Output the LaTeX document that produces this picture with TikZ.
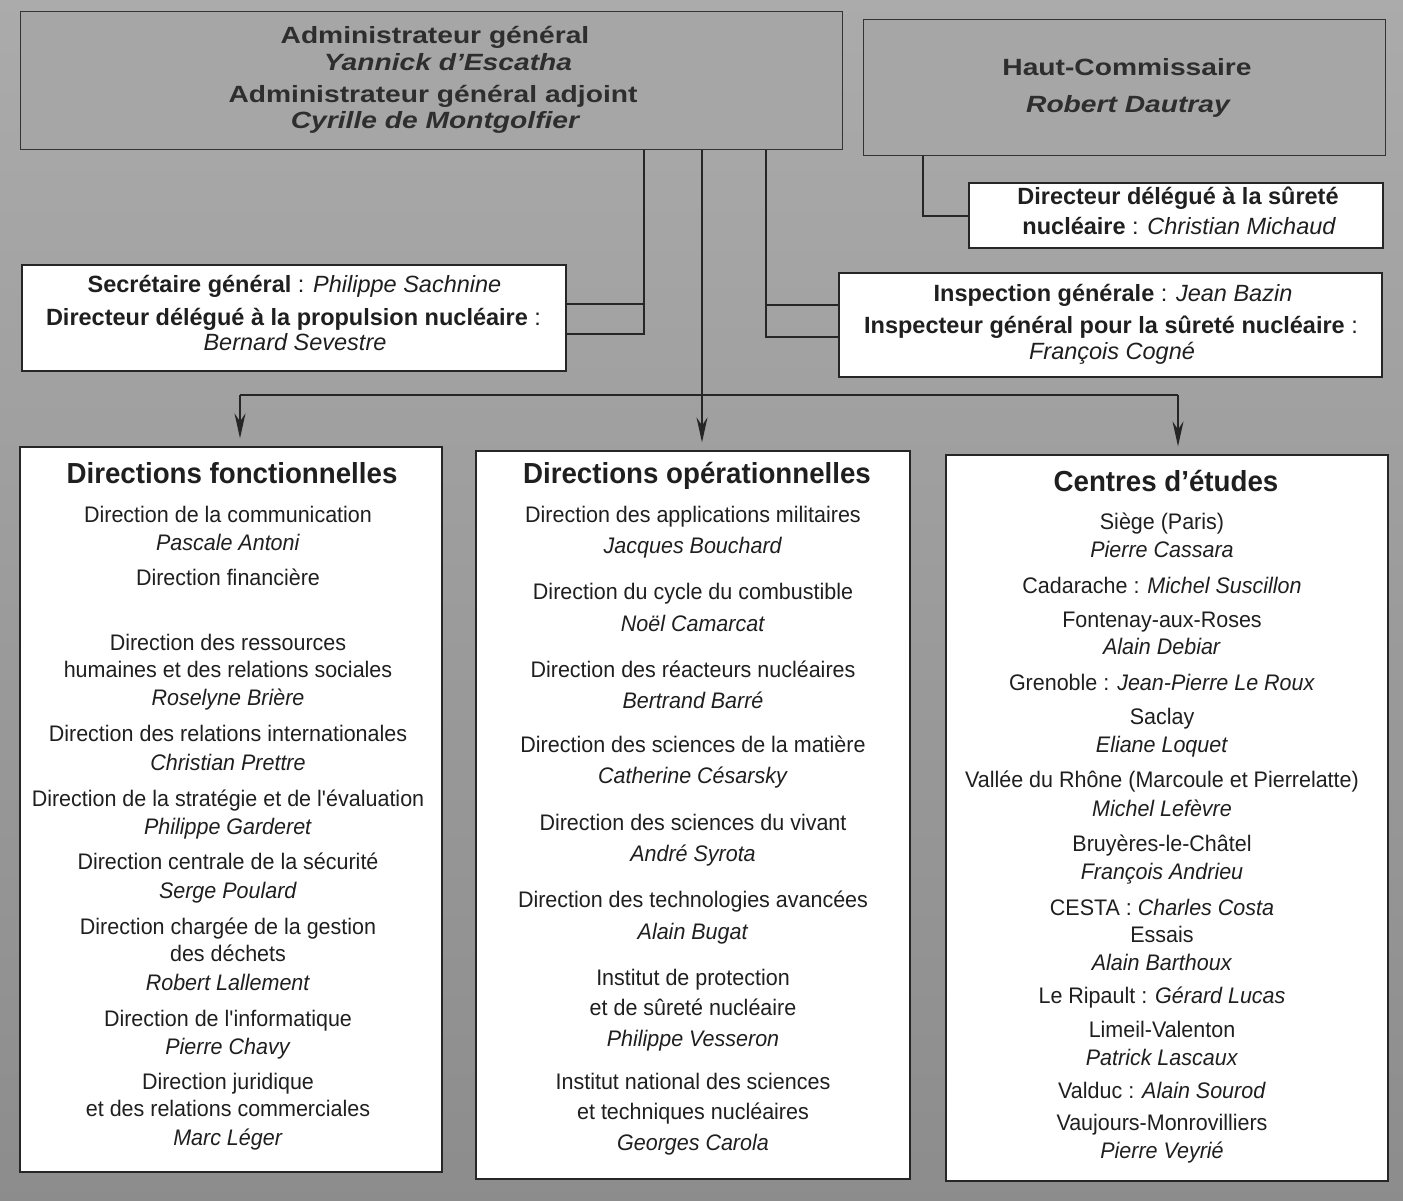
\documentclass[tikz,border=0pt]{standalone}
\usepackage{fontspec}
\setmainfont{Liberation Sans}
\newfontfamily\extfont[FakeStretch=1.2]{Liberation Sans}
\newfontfamily\condfont[FakeStretch=0.955]{Liberation Sans}
\usetikzlibrary{arrows.meta}
\newcommand\bodyfnt{\condfont\fontsize{22.5}{24}\selectfont}
\newcommand\ttlfnt{\condfont\fontsize{29}{30}\selectfont\bfseries}
\newcommand\supfnt{\fontsize{23.5}{26}\selectfont}
\newcommand\topfnt{\extfont\fontsize{23.5}{25}\selectfont\bfseries}
\begin{document}
\begin{tikzpicture}[x=1pt,y=-1pt,
  graybox/.style={draw=black!80, line width=1pt, fill=black!35, inner sep=0pt},
  whitebox/.style={draw=black!85, line width=1.3pt, fill=white, inner sep=0pt},
  conn/.style={draw=black!85, line width=1.3pt},
  arr/.style={conn, -{Stealth[length=25pt,width=11pt]}},
  txt/.style={inner sep=0pt, text=black!88, font=\bodyfnt, text height=15pt, text depth=4pt},
  stxt/.style={inner sep=0pt, text=black!88, font=\supfnt, text height=16pt, text depth=5pt},
  ttxt/.style={inner sep=0pt, text=black!82, font=\topfnt, text height=16pt, text depth=5pt}]
\useasboundingbox (0,0) rectangle (1403,1201);
\shade[top color=black!33, middle color=black!23, bottom color=black!45] (0,0) rectangle (1403,1201);

% top grey boxes
\node[graybox, minimum width=822pt, minimum height=138pt] (adm) at (431,81) {};
\node[graybox, minimum width=522pt, minimum height=136pt] (hc) at (1124,88) {};
% white boxes
\node[whitebox, minimum width=544pt, minimum height=106pt] (sec) at (294,318) {};
\node[whitebox, minimum width=414pt, minimum height=65pt] (dds) at (1176,215.5) {};
\node[whitebox, minimum width=543pt, minimum height=104pt] (insp) at (1110.5,325) {};
\node[whitebox, minimum width=422pt, minimum height=725pt] (b1) at (231,809.5) {};
\node[whitebox, minimum width=434pt, minimum height=728pt] (b2) at (693,815) {};
\node[whitebox, minimum width=442pt, minimum height=726pt] (b3) at (1167,818) {};

% connector junctions
\coordinate (ja) at (644,304);
\coordinate (jb) at (644,334);
\coordinate (jc) at (766,305);
\coordinate (jd) at (766,337);
\coordinate (je) at (923,216);
\coordinate (hl) at (240,395);
\coordinate (hm) at (702,395);
\coordinate (hr) at (1178,395);

\draw[conn] (adm.south -| jb) -- (jb) -- (jb -| sec.east);
\draw[conn] (ja) -- (ja -| sec.east);
\draw[conn] (adm.south -| jd) -- (jd) -- (jd -| insp.west);
\draw[conn] (jc) -- (jc -| insp.west);
\draw[conn] (hc.south -| je) -- (je) -- (je -| dds.west);
\draw[conn, line width=1.8pt] (hl) -- (hr);
\draw[arr, shorten >=8pt] (adm.south -| hm) -- (hm |- b2.north);
\draw[arr, shorten >=8pt] (hl) -- (hl |- b1.north);
\draw[arr, shorten >=8pt] (hr) -- (hr |- b3.north);

% top box texts
\node[ttxt] (adm1) at (435,38) {Administrateur général};
\node[ttxt] (adm2) at (448,65) {\itshape Yannick d’Escatha};
\node[ttxt] (adm3) at (433,97) {Administrateur général adjoint};
\node[ttxt] (adm4) at (435,123) {\itshape Cyrille de Montgolfier};
\node[ttxt] (hc1) at (1127,70) {Haut-Commissaire};
\node[ttxt] (hc2) at (1128,107) {\itshape Robert Dautray};

\node[stxt] (dds1) at (1178,199) {\bfseries Directeur délégué à la sûreté};
\node[stxt] (dds2) at (1179,229) {\bfseries nucléaire\mdseries{} : \itshape Christian Michaud};
\node[stxt] (sec1) at (294.5,287) {\bfseries Secrétaire général\mdseries{} : \itshape Philippe Sachnine};
\node[stxt] (sec2) at (293.5,320) {\bfseries Directeur délégué à la propulsion nucléaire\mdseries{} :};
\node[stxt] (sec3) at (295,345) {\itshape Bernard Sevestre};
\node[stxt] (insp1) at (1113,296) {\bfseries Inspection générale\mdseries{} : \itshape Jean Bazin};
\node[stxt] (insp2) at (1111,328) {\bfseries Inspecteur général pour la sûreté nucléaire\mdseries{} :};
\node[stxt] (insp3) at (1112,354) {\itshape François Cogné};

% column 1
\node[txt, font=\ttlfnt, text height=20pt, text depth=6pt] (t1) at (232,476) {Directions fonctionnelles};
\foreach \yy/\ll [count=\i] in {
 517/Direction de la communication, 545/\textit{Pascale Antoni}, 580/Direction financière,
 645/Direction des ressources, 672/humaines et des relations sociales, 700/\textit{Roselyne Brière},
 736/Direction des relations internationales, 765/\textit{Christian Prettre},
 801/Direction de la stratégie et de l\textquotesingle évaluation, 829/\textit{Philippe Garderet},
 864/Direction centrale de la sécurité, 893/\textit{Serge Poulard},
 929/Direction chargée de la gestion, 956/des déchets, 985/\textit{Robert Lallement},
 1021/Direction de l\textquotesingle informatique, 1049/\textit{Pierre Chavy},
 1084/Direction juridique, 1111/et des relations commerciales, 1140/\textit{Marc Léger}}
 \node[txt] (fa\i) at (228,\yy) {\ll};

% column 2
\node[txt, font=\ttlfnt, text height=20pt, text depth=6pt] (t2) at (697,476) {Directions opérationnelles};
\foreach \yy/\ll [count=\i] in {
 517/Direction des applications militaires, 548/\textit{Jacques Bouchard},
 594/Direction du cycle du combustible, 626/\textit{Noël Camarcat},
 672/Direction des réacteurs nucléaires, 703/\textit{Bertrand Barré},
 747/Direction des sciences de la matière, 778/\textit{Catherine Césarsky},
 825/Direction des sciences du vivant, 856/\textit{André Syrota},
 902/Direction des technologies avancées, 934/\textit{Alain Bugat},
 980/Institut de protection, 1010/et de sûreté nucléaire, 1041/\textit{Philippe Vesseron},
 1084/Institut national des sciences, 1114/et techniques nucléaires, 1145/\textit{Georges Carola}}
 \node[txt] (fb\i) at (693,\yy) {\ll};

% column 3
\node[txt, font=\ttlfnt, text height=20pt, text depth=6pt] (t3) at (1166,484) {Centres d’études};
\foreach \yy/\ll [count=\i] in {
 524/Siège (Paris), 552/\textit{Pierre Cassara},
 588/Cadarache : \textit{Michel Suscillon},
 622/Fontenay-aux-Roses, 649/\textit{Alain Debiar},
 685/Grenoble : \textit{Jean-Pierre Le Roux},
 719/Saclay, 747/\textit{Eliane Loquet},
 782/Vallée du Rhône (Marcoule et Pierrelatte), 811/\textit{Michel Lefèvre},
 846/Bruyères-le-Châtel, 874/\textit{François Andrieu},
 910/CESTA : \textit{Charles Costa}, 937/Essais, 965/\textit{Alain Barthoux},
 998/Le Ripault : \textit{Gérard Lucas},
 1032/Limeil-Valenton, 1060/\textit{Patrick Lascaux},
 1093/Valduc : \textit{Alain Sourod},
 1125/Vaujours-Monrovilliers, 1153/\textit{Pierre Veyrié}}
 \node[txt] (fc\i) at (1162,\yy) {\ll};
\end{tikzpicture}
\end{document}
